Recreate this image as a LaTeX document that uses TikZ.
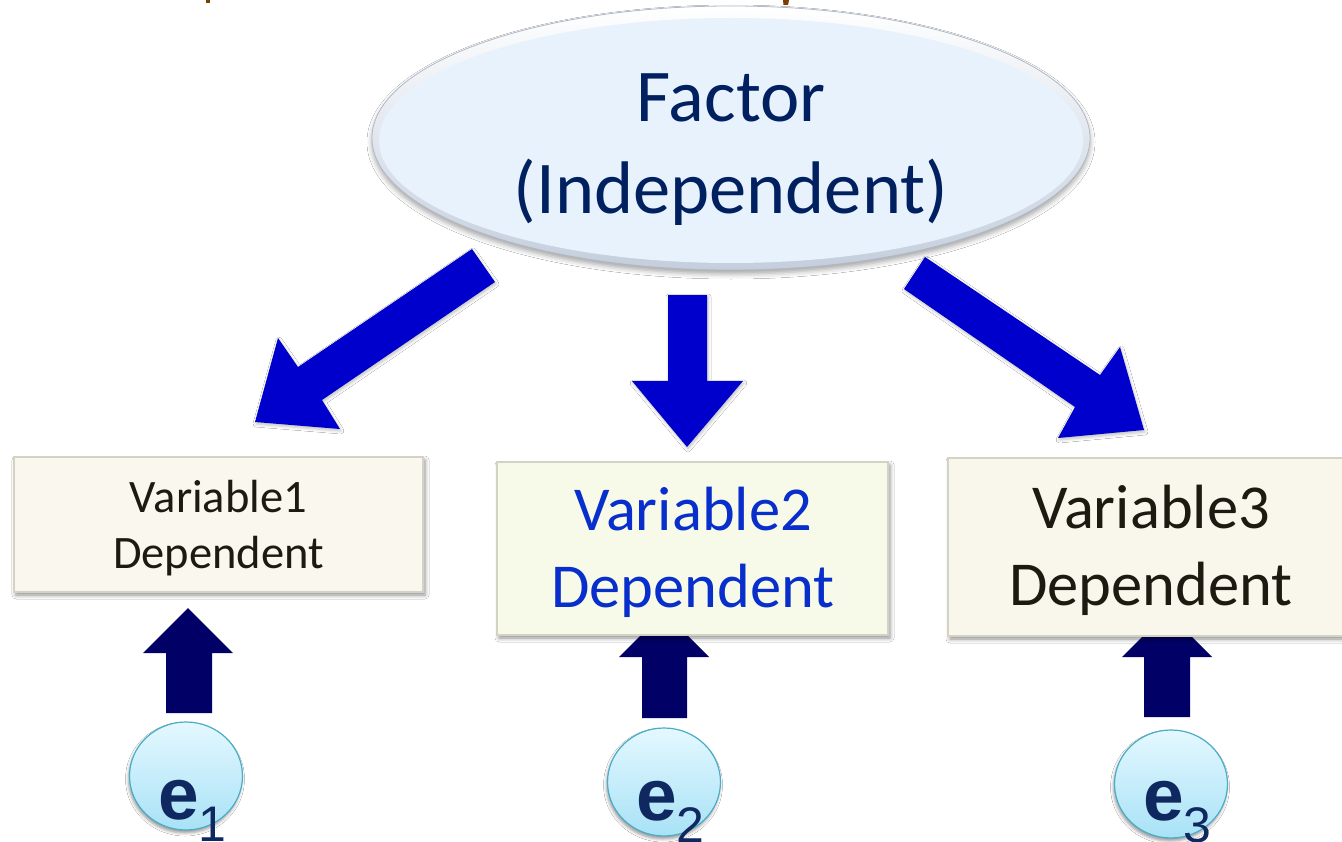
\documentclass[tikz,border=0pt]{standalone}
\usepackage{fontspec}
\setmainfont{Carlito}
\newfontfamily\efont{Liberation Sans}
\usetikzlibrary{shapes.geometric,shadows.blur}
\definecolor{arrowblue}{RGB}{0,0,204}
\definecolor{navyarrow}{RGB}{0,0,102}
\definecolor{factortext}{RGB}{0,32,96}
\definecolor{boxtext}{RGB}{29,27,17}
\definecolor{vtwotext}{RGB}{8,46,204}
\definecolor{etext}{RGB}{16,40,96}
\definecolor{errtop}{RGB}{228,248,255}
\definecolor{errbot}{RGB}{168,226,246}
\definecolor{errborder}{RGB}{75,172,198}
\definecolor{rimbot}{RGB}{196,206,220}
\definecolor{rimline}{RGB}{176,186,200}
\definecolor{factorfill}{RGB}{232,242,253}
\definecolor{boxone}{RGB}{250,248,238}
\definecolor{boxtwo}{RGB}{247,250,232}
\definecolor{boxthree}{RGB}{249,247,236}
\definecolor{boxedge}{RGB}{212,210,196}
\definecolor{titlebrown}{RGB}{123,63,0}
\begin{document}
\begin{tikzpicture}[x=1pt,y=-1pt,
  bigarrow/.style={fill=arrowblue, draw=none,
    blur shadow={shadow xshift=1pt,shadow yshift=-2pt,shadow blur radius=3pt,shadow opacity=25}},
  smallarrow/.style={fill=navyarrow, draw=none},
  varbox/.style={rectangle, inner sep=0pt, draw=boxedge, line width=1.5pt, align=center,
    blur shadow={shadow xshift=2pt,shadow yshift=-3pt,shadow blur radius=4pt,shadow opacity=45}},
  boxlabel/.style={inner sep=0pt, align=center},
  errnode/.style={ellipse, inner sep=0pt, minimum width=113pt, minimum height=108pt,
    draw=errborder, line width=1.2pt, top color=errtop, bottom color=errbot,
    blur shadow={shadow xshift=-1pt,shadow yshift=-3pt,shadow blur radius=3pt,shadow opacity=40}},
  elabel/.style={anchor=base west, inner sep=0pt, text=etext, font=\efont},
  factorshape/.style={ellipse, inner sep=0pt, minimum width=718pt, minimum height=264pt,
    top color=white, bottom color=rimbot, draw=rimline, line width=0.8pt,
    blur shadow={shadow xshift=0pt,shadow yshift=-4pt,shadow blur radius=5pt,shadow opacity=35}},
  factorlabel/.style={inner sep=0pt, align=center, text=factortext,
    font=\fontsize{74.5pt}{92pt}\selectfont},
  smalltext/.style={font=\fontsize{46.5pt}{56pt}\selectfont},
  bigtext/.style={font=\fontsize{62.5pt}{77pt}\selectfont}
]
\useasboundingbox (0,0) rectangle (1342,842);
\clip (0,0) rectangle (1342,842);
\fill[white] (0,0) rectangle (1342,842);

% cut-off title fragments
\fill[titlebrown] (206,0) rectangle (210,3);
\fill[titlebrown] (783,0) -- (789,0) -- (788,5) -- (783.5,5) -- cycle;

% factor ellipse
\node[factorshape] (factor) at (731,138) {};
\fill[factorfill] (731,140.5) ellipse [x radius=352, y radius=122.5];
\node[factorlabel] (factortxt) at (731,150) {Factor\\(Independent)};

% blue arrows from factor
\fill[bigarrow] (472,249) -- (495,282) -- (322,400) -- (340,429) -- (255,422) -- (278,338) -- (298,367) -- cycle;
\fill[bigarrow] (668,295) -- (707,295) -- (707,381) -- (743,381) -- (687,447) -- (632,381) -- (668,381) -- cycle;
\fill[bigarrow] (925,257) -- (1100,375) -- (1120,347) -- (1144,430) -- (1058,438) -- (1075,407) -- (904,289) -- cycle;

% navy arrows from errors
\fill[smallarrow] (166,713) -- (212,713) -- (212,653) -- (233,653) -- (188,608) -- (143,653) -- (166,653) -- cycle;
\fill[smallarrow] (642,718) -- (687,718) -- (687,657) -- (709,657) -- (664,612) -- (619,657) -- (642,657) -- cycle;
\fill[smallarrow] (1144,717) -- (1190,717) -- (1190,657) -- (1212,657) -- (1167,612) -- (1122,657) -- (1144,657) -- cycle;

% variable boxes
\node[varbox, fill=boxone, minimum width=409pt, minimum height=135pt] (v1) at (218.5,524.5) {};
\node[boxlabel, text=boxtext, smalltext] (v1t) at (218.5,528) {Variable1\\Dependent};
\node[varbox, fill=boxtwo, minimum width=391pt, minimum height=173pt] (v2) at (692.5,548.5) {};
\node[boxlabel, text=vtwotext, bigtext] (v2t) at (693,552) {Variable2\\Dependent};
\node[varbox, fill=boxthree, minimum width=406pt, minimum height=178pt] (v3) at (1151,547) {};
\node[boxlabel, text=boxtext, bigtext] (v3t) at (1151,550.5) {Variable3\\Dependent};

% error circles
\node[errnode] (e1) at (186,776) {};
\node[errnode] (e2) at (664,782) {};
\node[errnode] (e3) at (1171,784) {};
\node[elabel] (e1t) at (158,819) {\bfseries\fontsize{73pt}{73pt}\selectfont e\raisebox{-22pt}{\mdseries\fontsize{50pt}{50pt}\selectfont 1}};
\node[elabel] (e2t) at (636,820) {\bfseries\fontsize{73pt}{73pt}\selectfont e\raisebox{-22pt}{\mdseries\fontsize{50pt}{50pt}\selectfont 2}};
\node[elabel] (e3t) at (1143,820) {\bfseries\fontsize{73pt}{73pt}\selectfont e\raisebox{-22pt}{\mdseries\fontsize{50pt}{50pt}\selectfont 3}};
\end{tikzpicture}
\end{document}
